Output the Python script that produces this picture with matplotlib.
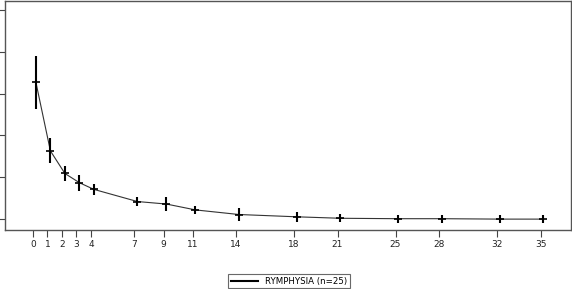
import numpy as np
import matplotlib
matplotlib.use("Agg")
import matplotlib.pyplot as plt

# days after treatment and mean score with error
days = [0, 1, 2, 3, 4, 7, 9, 11, 14, 18, 21, 25, 28, 32, 35]
mean_score = [3.27, 1.63, 1.09, 0.87, 0.71, 0.42, 0.36, 0.22, 0.11, 0.055, 0.02, 0.01, 0.01, 0.0, 0.0]
err = [0.63, 0.30, 0.17, 0.19, 0.14, 0.11, 0.17, 0.09, 0.15, 0.12, 0.10, 0.10, 0.10, 0.10, 0.10]
label = "RYMPHYSIA (n=25)"

fig = plt.figure(figsize=(5.72, 2.89), dpi=100)
ax = fig.add_axes([5 / 572, 1 - 230 / 289, 566 / 572, 229 / 289])

x = np.array(days) + 0.2  # points sit just right of the tick
ax.plot(x, mean_score, color="#333333", lw=0.8, label=label)
ax.errorbar(x, mean_score, yerr=err, fmt="none", ecolor="black", elinewidth=1.5, capsize=0)
ax.plot(x, mean_score, ls="none", marker="_", ms=6, mew=1.2, color="black")

ax.set_xlim(-1.93, 37.1)
ax.set_ylim(-0.26, 5.21)
ax.set_xticks(days)
ax.set_xticklabels([str(d) for d in days], fontsize=6.5, color="#222222")
ax.set_yticks(range(6))
ax.set_yticklabels([])
ax.tick_params(axis="x", length=5, width=0.8, pad=2.5, color="#444444")
ax.tick_params(axis="y", length=4, width=0.8, color="#444444")
for s in ax.spines.values():
    s.set_color("#555555")
    s.set_linewidth(1.0)

leg = fig.legend(handles=[plt.Line2D([], [], color="black", lw=1.5)], labels=[label],
                 loc="lower center", bbox_to_anchor=(0.505, 0.0), fontsize=6.2,
                 frameon=True, fancybox=False, edgecolor="#444444",
                 handlelength=3.2, borderpad=0.3, handletextpad=0.8, borderaxespad=0.1)
leg.get_frame().set_linewidth(0.8)

fig.savefig("out.png", dpi=100)
